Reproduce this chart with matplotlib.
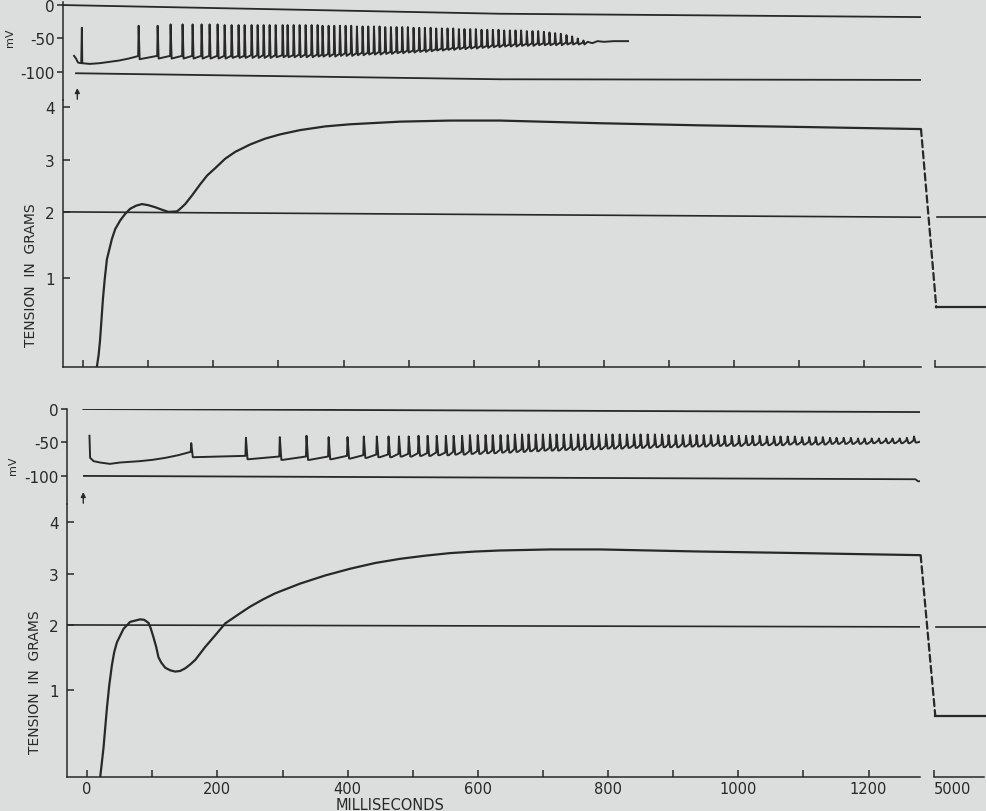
import numpy as np
import matplotlib
matplotlib.use('Agg')
import matplotlib.pyplot as plt
from matplotlib.patches import ConnectionPatch

W, H = 986, 812
BG = '#dcdedd'
INK = '#282828'

# ---- tension transducer calibration (grams -> fraction of 0..4 g span) ----
cal_grams = [-1, 0, 1, 2, 3, 4, 5]
cal_frac = [-0.342, 0.0, 0.342, 0.596, 0.796, 1.0, 1.2]

# ---- upper record ----
top_pre_t = [-14, -11, -8, -3, -2, -1.4, 10, 25, 40, 55, 70, 82]
top_pre_mv = [-76, -80, -86, -87, -34, -87, -88, -87, -85, -83, -80, -77]
top_spike_t = [84.5, 113.7, 133.6, 152, 167.4, 181.2, 193.5, 205.8, 216.6, 227.3,
               238, 247.3, 258, 267.3, 276.5, 285.7, 295, 305.7, 313.3, 322.6,
               331.8, 341, 350.2, 359.4, 367, 376.3, 385, 393.7, 402.4, 411,
               419.8, 428.5, 437.2, 446, 454.6, 463.3, 472, 480.7, 489.4, 498,
               506.8, 515.5, 524.2, 533, 541.6, 550.3, 559, 567.7, 576.4, 585,
               593.8, 602.5, 611.2, 620, 628.6, 637.3, 646, 654.7, 663.4, 672,
               680.8, 689.5, 698.2, 707, 715.6, 724.3, 733, 741.7, 750.4, 759, 767.8]
top_spike_base = [-76, -76, -76, -76, -76, -76, -76, -76, -76, -76,
                  -76, -76, -75, -75, -75, -75, -75, -75, -75, -75,
                  -74, -74, -74, -74, -74, -73, -73, -73, -72, -72,
                  -72, -71, -71, -71, -70, -70, -70, -69, -69, -68,
                  -68, -67, -67, -66, -66, -65, -65, -64, -63, -63,
                  -62, -62, -61, -61, -60, -60, -59, -59, -58, -58,
                  -58, -57, -57, -57, -57, -57, -56, -56, -56, -56, -56]
top_spike_peak = [-31, -31, -29, -29, -29, -29, -29, -29, -30, -30,
                  -30, -30, -30, -30, -30, -30, -30, -30, -30, -30,
                  -30, -30, -30, -30, -31, -31, -31, -31, -31, -31,
                  -32, -32, -32, -32, -32, -33, -33, -33, -33, -33,
                  -34, -34, -34, -34, -35, -35, -35, -35, -36, -36,
                  -36, -36, -37, -37, -37, -37, -38, -38, -38, -38,
                  -39, -39, -39, -40, -41, -42, -43, -45, -47, -50, -53]
top_spike_trough = [-81, -80, -80, -80, -80, -80, -80, -80, -80, -79,
                    -79, -79, -79, -79, -79, -79, -78, -78, -78, -78,
                    -78, -78, -78, -77, -77, -77, -77, -76, -76, -76,
                    -75, -75, -74, -74, -74, -73, -73, -72, -72, -71,
                    -71, -70, -70, -69, -68, -68, -67, -67, -66, -66,
                    -65, -65, -64, -64, -63, -63, -62, -62, -62, -61,
                    -61, -61, -60, -60, -60, -60, -60, -59, -59, -59, -59]
top_tail_t = [775, 782, 790, 800, 815, 837]
top_tail_mv = [-55, -57, -54, -55, -54, -54]
top_zero_t = [-31, 640, 1287]
top_zero_mv = [0, -13, -18]
top_hundred_t = [-11, 640, 1287]
top_hundred_mv = [-102, -111, -112]
top_stim_t = -9

top_tension_t = [21, 23.8, 26, 30.3, 33, 36.4, 44.1, 49.2, 56.8, 64.5, 72.2, 81.4,
                 90.2, 99.8, 110.6, 121.3, 131, 144, 149, 156.7, 167.4, 179.7,
                 190.5, 202.8, 218, 233.5, 256.5, 279.6, 302.6, 333, 371.7, 410,
                 487, 563.7, 640.5, 794, 948, 1101, 1287]
top_tension_g = [0.0, 0.14, 0.31, 0.76, 0.98, 1.28, 1.59, 1.74, 1.87, 1.97, 2.06,
                 2.12, 2.15, 2.13, 2.09, 2.04, 2.0, 2.01, 2.06, 2.15, 2.32, 2.53,
                 2.70, 2.84, 3.02, 3.15, 3.29, 3.40, 3.48, 3.56, 3.63, 3.67, 3.72,
                 3.74, 3.74, 3.69, 3.65, 3.62, 3.58]
top_ref2_t = [-31, 1287]
top_ref2_g = [2.0, 1.92]
top_late_g = 0.67

# ---- lower record ----
bot_pre_t = [3.5, 4.5, 10, 20, 35, 50, 65, 80, 100, 120, 140, 155]
bot_pre_mv = [-40, -73, -78, -80, -82, -80, -79, -78, -76, -73, -69, -65]
bot_spike_t = [159, 243, 295, 336, 370, 399, 424, 444, 462, 478,
               493, 508, 522, 536, 550, 562, 575, 587, 599, 611,
               622, 634, 645, 656, 667, 677, 688, 699, 710, 720,
               731, 742, 753, 763, 774, 785, 796, 806, 817, 828,
               839, 849, 860, 871, 882, 892, 903, 914, 925, 935,
               946, 957, 968, 978, 989, 1000, 1011, 1021, 1032, 1043,
               1054, 1064, 1075, 1086, 1097, 1108, 1118, 1129, 1140, 1150,
               1161, 1172, 1183, 1193, 1204, 1215, 1226, 1236, 1247, 1258, 1269]
bot_spike_base = [-64, -70, -71, -71, -71, -70, -69, -68, -68, -67,
                  -67, -66, -66, -65, -65, -64, -64, -63, -63, -62,
                  -62, -61, -61, -60, -60, -59, -59, -58, -58, -57,
                  -57, -57, -56, -56, -56, -55, -55, -55, -54, -54,
                  -54, -54, -53, -53, -53, -53, -52, -52, -52, -52,
                  -52, -51, -51, -51, -51, -51, -50, -50, -50, -50,
                  -50, -50, -49, -49, -49, -49, -49, -49, -48, -48,
                  -48, -48, -48, -48, -48, -47, -47, -47, -47, -47, -47]
bot_spike_peak = [-51, -43, -42, -40, -42, -42, -41, -41, -41, -41,
                  -41, -40, -40, -40, -40, -40, -40, -39, -39, -39,
                  -39, -39, -39, -38, -38, -38, -38, -38, -38, -38,
                  -38, -38, -38, -38, -38, -38, -38, -38, -38, -38,
                  -38, -38, -38, -38, -38, -39, -39, -39, -39, -39,
                  -39, -39, -39, -40, -40, -40, -40, -40, -40, -41,
                  -41, -41, -41, -41, -42, -42, -42, -42, -43, -43,
                  -43, -43, -44, -44, -44, -44, -44, -44, -44, -43, -41]
bot_spike_trough = [-72, -75, -76, -76, -75, -74, -73, -72, -72, -71,
                    -71, -70, -70, -69, -69, -68, -68, -67, -67, -66,
                    -66, -65, -65, -64, -64, -63, -63, -62, -62, -62,
                    -61, -61, -61, -60, -60, -60, -59, -59, -59, -58,
                    -58, -58, -58, -57, -57, -57, -57, -56, -56, -56,
                    -56, -55, -55, -55, -55, -55, -54, -54, -54, -54,
                    -54, -54, -53, -53, -53, -53, -53, -53, -52, -52,
                    -52, -52, -52, -52, -51, -51, -51, -51, -51, -51, -50]
bot_tail_t = [1282]
bot_tail_mv = [-48]
bot_zero_t = [-6, 1280]
bot_zero_mv = [0, -4.5]
bot_hundred_t = [-5, 1272, 1276, 1280]
bot_hundred_mv = [-100, -105, -108, -108]
bot_stim_t = -6

bot_tension_t = [20, 22.3, 25, 30.3, 33.8, 37.9, 41.5, 45.6, 55.8, 66, 81.4, 87.6,
                 94.2, 97.5, 101.8, 106, 109.5, 113.7, 119.8, 127.5, 135.2, 142.8,
                 150.5, 158.2, 165.9, 173.6, 181.2, 196.6, 212, 235, 250.4, 270,
                 288.8, 327, 365.6, 404, 442.4, 480.8, 519, 557.6, 596, 634, 711,
                 788, 941.6, 1095, 1280]
bot_tension_g = [0.0, 0.15, 0.33, 0.79, 1.06, 1.375, 1.58, 1.73, 1.94, 2.06, 2.11,
                 2.10, 2.04, 1.95, 1.81, 1.66, 1.50, 1.42, 1.34, 1.30, 1.28, 1.29,
                 1.33, 1.39, 1.46, 1.56, 1.66, 1.84, 2.03, 2.23, 2.36, 2.50, 2.62,
                 2.81, 2.97, 3.10, 3.21, 3.29, 3.35, 3.40, 3.43, 3.45, 3.47, 3.47,
                 3.43, 3.40, 3.36]
bot_ref2_t = [-31, 1280]
bot_ref2_g = [2.0, 1.97]
bot_late_g = 0.70

ms_ticks = [0, 200, 400, 600, 800, 1000, 1200]
ms_minor = [100, 300, 500, 700, 900, 1100]
late_time = 5000


def fwd(g):
    return np.interp(g, cal_grams, cal_frac)


def inv(p):
    return np.interp(p, cal_frac, cal_grams)


def box(left, top, right, bottom):
    """pixel box -> figure-fraction rect"""
    return [left / W, 1 - bottom / H, (right - left) / W, (bottom - top) / H]


def trace(pre_t, pre_v, st, sb, sp, str_, tail_t, tail_v, rise, fall, hold):
    t, v = list(pre_t), list(pre_v)
    for ti, b, p, tr in zip(st, sb, sp, str_):
        t += [ti, ti + rise, ti + fall, ti + hold]
        v += [b, p, tr, tr]
    return t + list(tail_t), v + list(tail_v)


def panel(fig, px, d, labels):
    left, right, mv_top, mv_bot, ax_bot, xlim, mv_ylim, g_top = px
    ax_mv = fig.add_axes(box(left, mv_top, right, mv_bot))
    ax_t = fig.add_axes(box(left, mv_bot, right, ax_bot))
    ax_l = fig.add_axes(box(right + 14, mv_bot, right + 64, ax_bot))
    for ax in (ax_mv, ax_t, ax_l):
        ax.set_facecolor('none')
        for s in ax.spines.values():
            s.set_color(INK)
            s.set_linewidth(1.1)

    # membrane potential
    ax_mv.set_xlim(xlim)
    ax_mv.set_ylim(mv_ylim)
    for s in ('top', 'right', 'bottom'):
        ax_mv.spines[s].set_visible(False)
    ax_mv.set_xticks([])
    ax_mv.set_yticks([0, -50, -100])
    ax_mv.set_yticklabels(['0', '-50', '-100'])
    ax_mv.tick_params(axis='y', direction='out', length=4, width=1.1, pad=2,
                      labelsize=11, colors=INK)
    ax_mv.plot(d['zero_t'], d['zero_mv'], color=INK, lw=1.3)
    ax_mv.plot(d['hundred_t'], d['hundred_mv'], color=INK, lw=1.3)
    t, v = trace(d['pre_t'], d['pre_mv'], d['st'], d['sb'], d['sp'], d['str'],
                 d['tail_t'], d['tail_mv'], d['rise'], d['fall'], d['hold'])
    ax_mv.plot(t, v, color=INK, lw=1.4, solid_joinstyle='round')
    ax_mv.annotate('', xy=(d['stim'], -120), xytext=(d['stim'], -145),
                   annotation_clip=False,
                   arrowprops=dict(arrowstyle='-|>', color=INK, lw=1.0,
                                   mutation_scale=7))

    # tension
    for ax in (ax_t, ax_l):
        ax.set_yscale('function', functions=(fwd, inv))
        ax.set_ylim(0, g_top)
    ax_t.set_xlim(xlim)
    ax_t.spines['top'].set_visible(False)
    ax_t.spines['right'].set_visible(False)
    ax_t.set_yticks([1, 2, 3, 4])
    ax_t.set_yticklabels(['1', '2', '3', '4'])
    ax_t.minorticks_off()
    ax_t.set_xticks(ms_ticks)
    ax_t.set_xticks(ms_minor, minor=True)
    ax_t.tick_params(axis='both', which='both', direction='in', length=5,
                     width=1.1, colors=INK)
    ax_t.tick_params(axis='y', labelsize=11, pad=6)
    ax_t.tick_params(axis='x', labelsize=10.5, pad=3)
    if not labels:
        ax_t.set_xticklabels([])
    ax_t.plot(d['ref2_t'], d['ref2_g'], color=INK, lw=1.2)
    ax_t.plot(d['ten_t'], d['ten_g'], color=INK, lw=1.6, solid_joinstyle='round')

    ax_l.set_xlim(late_time, late_time + 77)
    for s in ('top', 'right', 'left'):
        ax_l.spines[s].set_visible(False)
    ax_l.set_yticks([])
    ax_l.minorticks_off()
    ax_l.set_xticks([late_time])
    ax_l.set_xticklabels([str(late_time)] if labels else [])
    ax_l.tick_params(axis='x', direction='in', length=5, width=1.1,
                     labelsize=10.5, colors=INK, pad=3)
    for lab in ax_l.get_xticklabels():
        lab.set_ha('left')
        lab.set_x(late_time - 2)
    ax_l.plot([late_time + 3, late_time + 90], [d['ref2_g'][-1]] * 2,
              color=INK, lw=1.2, clip_on=False)
    ax_l.plot([late_time + 2, late_time + 90], [d['late_g']] * 2,
              color=INK, lw=1.6, clip_on=False)
    con = ConnectionPatch(xyA=(d['ten_t'][-1], d['ten_g'][-1]), coordsA=ax_t.transData,
                          xyB=(late_time + 2, d['late_g']), coordsB=ax_l.transData,
                          color=INK, lw=1.6, linestyle=(0, (3.2, 1.8)))
    fig.add_artist(con)
    return ax_t


fig = plt.figure(figsize=(W / 100, H / 100), dpi=100, facecolor=BG)
plt.rcParams['font.family'] = ['DejaVu Sans']

top = dict(pre_t=top_pre_t, pre_mv=top_pre_mv, st=top_spike_t, sb=top_spike_base,
           sp=top_spike_peak, str=top_spike_trough, tail_t=top_tail_t,
           tail_mv=top_tail_mv, rise=0.7, fall=2.2, hold=2.2, zero_t=top_zero_t,
           zero_mv=top_zero_mv, hundred_t=top_hundred_t, hundred_mv=top_hundred_mv,
           stim=top_stim_t, ten_t=top_tension_t, ten_g=top_tension_g,
           ref2_t=top_ref2_t, ref2_g=top_ref2_g, late_g=top_late_g)
bot = dict(pre_t=bot_pre_t, pre_mv=bot_pre_mv, st=bot_spike_t, sb=bot_spike_base,
           sp=bot_spike_peak, str=bot_spike_trough, tail_t=bot_tail_t,
           tail_mv=bot_tail_mv, rise=0.8, fall=3.2, hold=5.5, zero_t=bot_zero_t,
           zero_mv=bot_zero_mv, hundred_t=bot_hundred_t, hundred_mv=bot_hundred_mv,
           stim=bot_stim_t, ten_t=bot_tension_t, ten_g=bot_tension_g,
           ref2_t=bot_ref2_t, ref2_g=bot_ref2_g, late_g=bot_late_g)

# pixel layout: left, right, mV top, mV/tension split, tension bottom
panel(fig, (63, 921, 2.7, 101, 368, (-31, 1287), (-142, 5), 4.13), top, False)
panel(fig, (67, 920, 409.7, 505, 778, (-31, 1279), (-142, 0.5), 4.35), bot, True)

fig.text(10 / W, 1 - 38 / H, 'mV', rotation=90, ha='center', va='center',
         fontsize=8, color=INK)
fig.text(13 / W, 1 - 466 / H, 'mV', rotation=90, ha='center', va='center',
         fontsize=8, color=INK)
fig.text(31 / W, 1 - 275 / H, 'TENSION  IN  GRAMS', rotation=90, ha='center',
         va='center', fontsize=10, color=INK)
fig.text(35 / W, 1 - 682 / H, 'TENSION  IN  GRAMS', rotation=90, ha='center',
         va='center', fontsize=10, color=INK)
fig.text(390 / W, 1 - 806 / H, 'MILLISECONDS', ha='center', va='center',
         fontsize=10.5, color=INK)

fig.savefig('out.png', dpi=100, facecolor=BG)
